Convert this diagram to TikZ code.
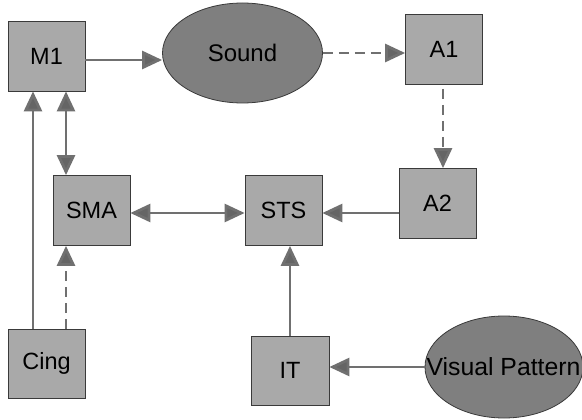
\documentclass[tikz,border=0pt]{standalone}
\usepackage{fontspec}
\setmainfont{Liberation Sans}
\usetikzlibrary{arrows.meta,shapes.geometric}
\definecolor{boxgray}{HTML}{A9A9A9}
\definecolor{ovalgray}{HTML}{7F7F7F}
\definecolor{linegray}{HTML}{707070}
\definecolor{edgegray}{HTML}{3A3A3A}
\tikzset{
  area/.style={draw=edgegray, line width=0.8pt, fill=boxgray, rectangle,
    minimum width=77pt, minimum height=70pt, inner sep=0pt,
    font=\fontsize{23.5}{23.5}\selectfont},
  oval/.style={draw=edgegray, line width=0.8pt, fill=ovalgray, ellipse,
    inner sep=0pt, font=\fontsize{24}{24}\selectfont},
  link/.style={draw=linegray, line width=2.8pt,
    -{Triangle[length=20pt,width=18pt,fill=linegray!90!black]}},
  dlink/.style={link, {Triangle[length=20pt,width=18pt,fill=linegray!90!black]}-{Triangle[length=20pt,width=18pt,fill=linegray!90!black]}},
  dashlink/.style={link, dash pattern=on 10pt off 6pt}
}
\begin{document}
\begin{tikzpicture}[x=1pt, y=-1pt]
  \fill[white] (0,0) rectangle (582,420);
  \useasboundingbox (0,0) rectangle (582,420);

  % regions
  \node[area] (M1)   at (46.5,56)    {M1};
  \node[area] (A1)   at (444,49.5)   {A1};
  \node[area] (A2)   at (437.5,203.5){A2};
  \node[area] (SMA)  at (91.5,210.5) {SMA};
  \node[area] (STS)  at (283.5,210.5){STS};
  \node[area, minimum height=69pt] (Cing) at (46.5,363.5) {Cing};
  \node[area, minimum height=69pt, minimum width=78pt] (IT) at (290,370.5) {IT};

  % stimuli
  \node[oval, minimum width=160pt, minimum height=100pt] (Sound) at (242.5,53) {Sound};
  \node[oval, minimum width=158pt, minimum height=102pt] (VPshape) at (504,367) {};
  \node[font=\fontsize{24.8}{24.8}\selectfont, inner sep=0pt] (VP) at (503.5,367) {Visual Pattern};

  % auditory stream
  \draw[link] (M1.east |- 0,60) -- (Sound.west |- 0,60);
  \draw[dashlink] (Sound.east) -- (A1.west |- Sound.east);
  \draw[dashlink] ([yshift=-4pt]A1.south -| 443,0) -- (A2.north -| 443,0);
  \draw[link] (A2.west |- 0,213) -- (STS.east |- 0,213);

  % motor loop
  \draw[dlink] (SMA.east |- 0,213) -- (STS.west |- 0,213);
  \draw[dlink] (M1.south -| 66,0) -- (SMA.north -| 66,0);
  \draw[link] (Cing.north -| 33,0) -- (M1.south -| 33,0);
  \draw[dashlink] (Cing.north -| 66,0) -- (SMA.south -| 66,0);

  % visual stream
  \draw[link] (IT.north) -- (STS.south -| IT.north);
  \draw[link] (VPshape.west) -- (IT.east |- VPshape.west);
\end{tikzpicture}
\end{document}
